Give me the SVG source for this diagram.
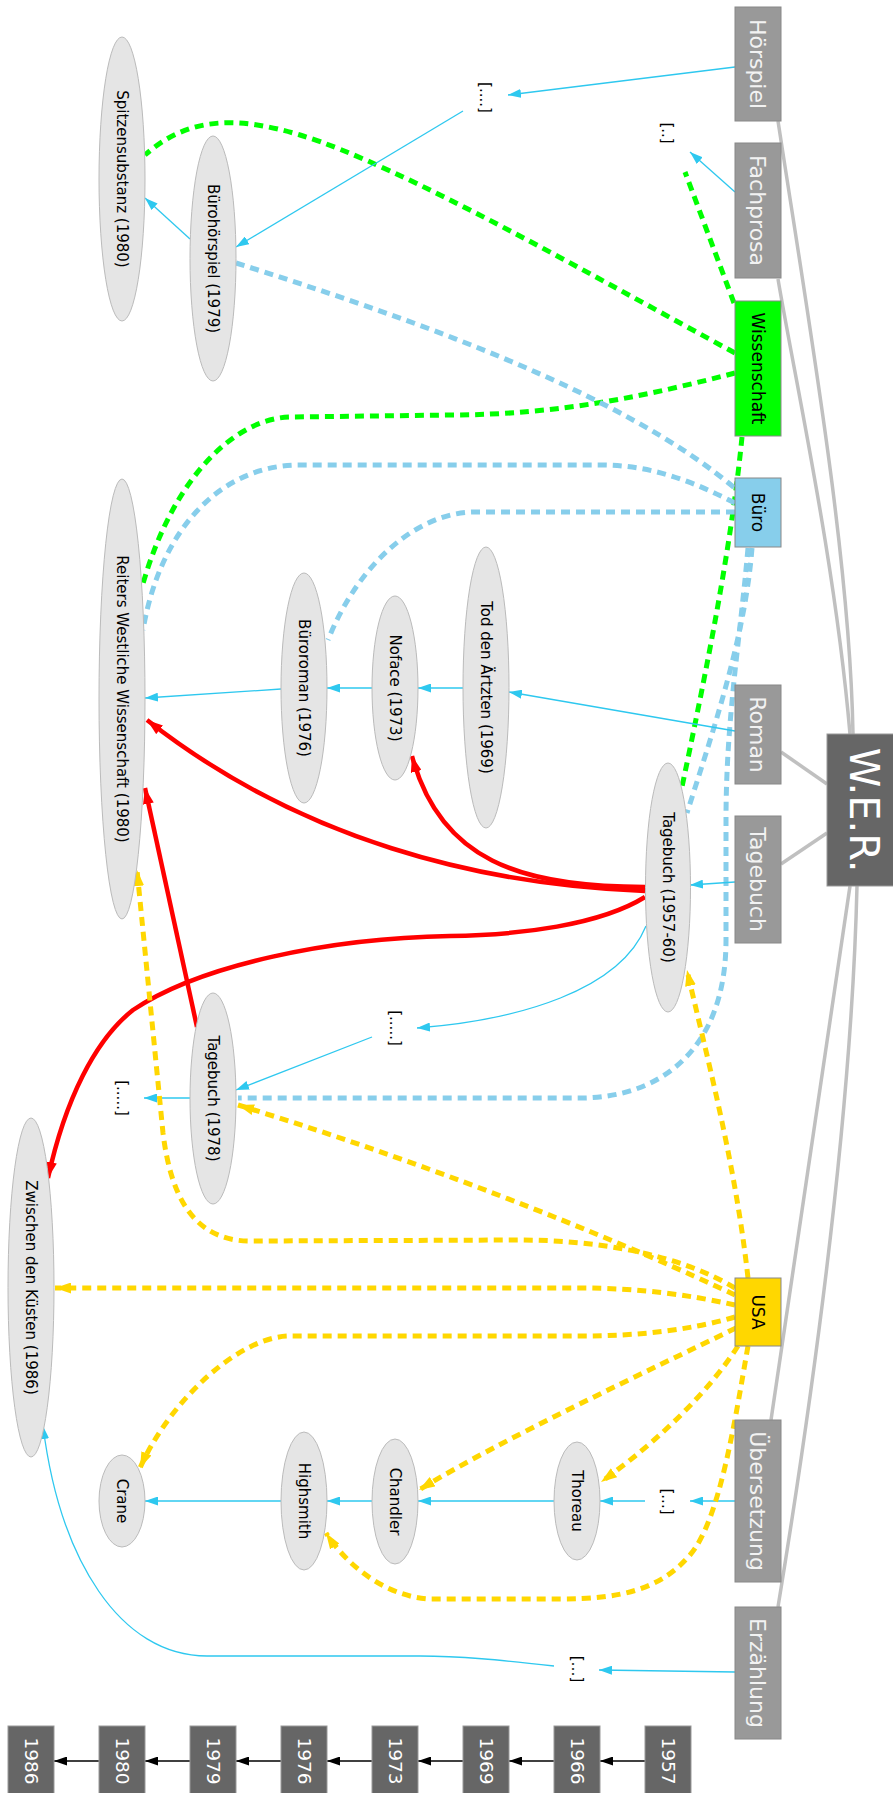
<svg xmlns="http://www.w3.org/2000/svg" width="893" height="1793" viewBox="0 0 893 1793">
<style>
text{font-family:"DejaVu Sans","Liberation Sans",sans-serif;text-anchor:middle}
.el{fill:#e5e5e5;stroke:#bbbbbb;stroke-width:1}
.el+text,.lbl{font-size:15px;fill:#000}
.gb{fill:#999999;stroke:#888888;stroke-width:1}
.gt{font-size:22px;fill:#f2f2f2}
.ct{font-size:17px;fill:#000}
.yb{fill:#666666;stroke:#999999;stroke-width:1}
.yt{font-size:18.5px;fill:#ffffff}
.w{fill:none;stroke:#c0c0c0;stroke-width:3.5}
.b{fill:none;stroke:#2ec8ef;stroke-width:1.3;marker-end:url(#ab)}
.r{fill:none;stroke:#ff0000;stroke-width:4.5;marker-end:url(#ar)}
.g{fill:none;stroke:#00ff00;stroke-width:5;stroke-dasharray:9,6}
.s{fill:none;stroke:#87ceeb;stroke-width:5;stroke-dasharray:9,6}
.y{fill:none;stroke:#ffd700;stroke-width:5;stroke-dasharray:9,6;marker-end:url(#ay)}
.k{fill:none;stroke:#000;stroke-width:1.3;marker-end:url(#ak)}
</style>
<defs>
<marker id="ab" viewBox="0 0 13 9" refX="13" refY="4.5" markerWidth="13" markerHeight="9" markerUnits="userSpaceOnUse" orient="auto"><path d="M0,0 L13,4.5 L0,9 z" fill="#2ec8ef"/></marker>
<marker id="ar" viewBox="0 0 16 11" refX="16" refY="5.5" markerWidth="16" markerHeight="11" markerUnits="userSpaceOnUse" orient="auto"><path d="M0,0 L16,5.5 L0,11 z" fill="#ff0000"/></marker>
<marker id="ay" viewBox="0 0 16 11" refX="16" refY="5.5" markerWidth="16" markerHeight="11" markerUnits="userSpaceOnUse" orient="auto"><path d="M0,0 L16,5.5 L0,11 z" fill="#ffd700"/></marker>
<marker id="ak" viewBox="0 0 13 9" refX="13" refY="4.5" markerWidth="13" markerHeight="9" markerUnits="userSpaceOnUse" orient="auto"><path d="M0,0 L13,4.5 L0,9 z" fill="#000"/></marker>
</defs>
<rect width="893" height="1793" fill="#ffffff"/>

<g id="connectors">
<!-- W.E.R. to genres -->
<path class="w" d="M778,121 C810,330 850,560 853,734"/>
<path class="w" d="M778,279 C795,380 835,560 850,734"/>
<path class="w" d="M781,752 L827,784"/>
<path class="w" d="M781,864 L827,833"/>
<path class="w" d="M850,886 L771,1420"/>
<path class="w" d="M857,886 C852,1100 820,1350 778,1607"/>
<!-- green dashed -->
<path class="g" d="M735,353 C600,280 400,165 300,135 C240,117 190,115 145,155"/>
<path class="g" d="M734,303 L685,172"/>
<path class="g" d="M735,373 C650,395 560,415 450,415 L290,417 C240,418 175,470 142,587"/>
<path class="g" d="M742,437 C730,560 700,700 682,787"/>
<!-- skyblue dashed -->
<path class="s" d="M236,263 C400,315 620,390 737,490"/>
<path class="s" d="M735,503 C690,480 650,465 600,465 L300,465 C220,465 160,530 143,630"/>
<path class="s" d="M735,512 L475,512 C420,512 360,560 328,640"/>
<path class="s" d="M752,548 C745,640 710,740 687,813"/>
<path class="s" d="M748,548 C740,640 726,720 726,820 L726,940 C726,1050 660,1098 580,1098 L238,1098"/>
<!-- blue arrows -->
<path class="b" d="M735,67 L508,95"/>
<path class="b" d="M463,111 L236,247"/>
<path class="b" d="M190,239 L145,198"/>
<path class="b" d="M735,192 L690,152"/>
<path class="b" d="M735,731 L509,692"/>
<path class="b" d="M463,688 L418,688"/>
<path class="b" d="M372,688 L327,688"/>
<path class="b" d="M281,689 L145,698"/>
<path class="b" d="M735,882 L690,885"/>
<path class="b" d="M646,926 C620,990 520,1020 417,1028"/>
<path class="b" d="M372,1037 L236,1090"/>
<path class="b" d="M190,1098 L144,1098"/>
<path class="b" d="M735,1501 L690,1501"/>
<path class="b" d="M645,1501 L600,1501"/>
<path class="b" d="M554,1501 L418,1501"/>
<path class="b" d="M372,1501 L327,1501"/>
<path class="b" d="M281,1501 L145,1501"/>
<path class="b" d="M735,1672 L599,1670"/>
<path class="b" d="M554,1666 C500,1660 460,1656 420,1656 L207,1656 C120,1656 60,1560 43,1426"/>
<!-- red -->
<path class="r" d="M645,887 C520,887 440,860 412,756"/>
<path class="r" d="M645,891 C480,885 300,840 147,720"/>
<path class="r" d="M645,897 C600,925 520,935 450,936 C330,938 200,965 133,1010 C95,1040 65,1100 48,1178"/>
<path class="r" d="M197,1027 L145,788"/>
<!-- yellow -->
<path class="y" d="M748,1278 C735,1160 705,1050 687,970"/>
<path class="y" d="M735,1295 C640,1250 450,1170 238,1105"/>
<path class="y" d="M735,1288 C680,1255 600,1240 520,1240 L250,1241 C190,1241 170,1190 163,1133 L137,870"/>
<path class="y" d="M735,1305 C690,1295 640,1288 580,1288 L55,1288"/>
<path class="y" d="M735,1317 C690,1330 640,1336 580,1336 L290,1336 C240,1336 170,1400 140,1468"/>
<path class="y" d="M736,1328 C650,1370 500,1440 419,1490"/>
<path class="y" d="M738,1346 C710,1390 660,1440 601,1482"/>
<path class="y" d="M748,1346 C735,1420 720,1520 690,1555 C660,1590 620,1599 560,1599 L430,1599 C390,1597 350,1570 326,1533"/>
<!-- timeline -->
<path class="k" d="M645,1761 L600,1761"/>
<path class="k" d="M554,1761 L509,1761"/>
<path class="k" d="M463,1761 L418,1761"/>
<path class="k" d="M372,1761 L327,1761"/>
<path class="k" d="M281,1761 L236,1761"/>
<path class="k" d="M190,1761 L145,1761"/>
<path class="k" d="M99,1761 L54,1761"/>
</g>

<g id="wer"><rect x="827" y="734" width="67" height="152" fill="#666666" stroke="#999999"/><text transform="translate(864,810) rotate(90)" dy="0.35em" font-size="40" fill="#ffffff">W.E.R.</text></g>
<g id="hoerspiel"><rect class="gb" x="735" y="7" width="46" height="114"/><text class="gt" transform="translate(758,64) rotate(90)" dy="0.35em">Hörspiel</text></g>
<g id="fachprosa"><rect class="gb" x="735" y="143" width="46" height="135"/><text class="gt" transform="translate(758,210.5) rotate(90)" dy="0.35em">Fachprosa</text></g>
<g id="wissenschaft"><rect x="735" y="301" width="46" height="135" fill="#00ff00" stroke="#888888"/><text class="ct" transform="translate(758,368.5) rotate(90)" dy="0.35em">Wissenschaft</text></g>
<g id="buero"><rect x="735" y="478" width="46" height="69" fill="#87ceeb" stroke="#888888"/><text class="ct" transform="translate(758,512.5) rotate(90)" dy="0.35em">Büro</text></g>
<g id="roman"><rect class="gb" x="735" y="685" width="46" height="99"/><text class="gt" transform="translate(758,734.5) rotate(90)" dy="0.35em">Roman</text></g>
<g id="tagebuch"><rect class="gb" x="735" y="816" width="46" height="127"/><text class="gt" transform="translate(758,879.5) rotate(90)" dy="0.35em">Tagebuch</text></g>
<g id="usa"><rect x="735" y="1278" width="46" height="68" fill="#ffd700" stroke="#888888"/><text class="ct" transform="translate(758,1312) rotate(90)" dy="0.35em">USA</text></g>
<g id="uebersetzung"><rect class="gb" x="735" y="1420" width="46" height="162"/><text class="gt" transform="translate(758,1501) rotate(90)" dy="0.35em">Übersetzung</text></g>
<g id="erzaehlung"><rect class="gb" x="735" y="1607" width="46" height="132"/><text class="gt" transform="translate(758,1673) rotate(90)" dy="0.35em">Erzählung</text></g>

<g id="spitzensubstanz"><ellipse class="el" cx="122" cy="179" rx="23" ry="142"/><text transform="translate(122,179) rotate(90)" dy="0.35em">Spitzensubstanz (1980)</text></g>
<g id="buerohoerspiel"><ellipse class="el" cx="213" cy="258.5" rx="23" ry="122.5"/><text transform="translate(213,258.5) rotate(90)" dy="0.35em">Bürohörspiel (1979)</text></g>
<g id="reiters"><ellipse class="el" cx="122" cy="699" rx="23" ry="220"/><text transform="translate(122,699) rotate(90)" dy="0.35em">Reiters Westliche Wissenschaft (1980)</text></g>
<g id="bueroroman"><ellipse class="el" cx="304" cy="688" rx="23" ry="115"/><text transform="translate(304,688) rotate(90)" dy="0.35em">Büroroman (1976)</text></g>
<g id="noface"><ellipse class="el" cx="395" cy="688" rx="23" ry="92"/><text transform="translate(395,688) rotate(90)" dy="0.35em">Noface (1973)</text></g>
<g id="tod"><ellipse class="el" cx="486" cy="687.5" rx="23" ry="140.5"/><text transform="translate(486,687.5) rotate(90)" dy="0.35em">Tod den Ärtzten (1969)</text></g>
<g id="tagebuch5760"><ellipse class="el" cx="668" cy="887.5" rx="22.5" ry="124.5"/><text transform="translate(668,887.5) rotate(90)" dy="0.35em">Tagebuch (1957-60)</text></g>
<g id="tagebuch1978"><ellipse class="el" cx="213" cy="1098.5" rx="23" ry="105.5"/><text transform="translate(213,1098.5) rotate(90)" dy="0.35em">Tagebuch (1978)</text></g>
<g id="zwischen"><ellipse class="el" cx="31" cy="1287.5" rx="23" ry="169.5"/><text transform="translate(31,1287.5) rotate(90)" dy="0.35em">Zwischen den Küsten (1986)</text></g>
<g id="crane"><ellipse class="el" cx="122" cy="1501" rx="23" ry="46"/><text transform="translate(122,1501) rotate(90)" dy="0.35em">Crane</text></g>
<g id="highsmith"><ellipse class="el" cx="304" cy="1501" rx="23" ry="69"/><text transform="translate(304,1501) rotate(90)" dy="0.35em">Highsmith</text></g>
<g id="chandler"><ellipse class="el" cx="395" cy="1501.5" rx="23" ry="62.5"/><text transform="translate(395,1501.5) rotate(90)" dy="0.35em">Chandler</text></g>
<g id="thoreau"><ellipse class="el" cx="577" cy="1501" rx="23" ry="59"/><text transform="translate(577,1501) rotate(90)" dy="0.35em">Thoreau</text></g>

<g id="p1"><text class="lbl" transform="translate(485,97.5) rotate(90)" dy="0.35em">[....]</text></g>
<g id="p2"><text class="lbl" transform="translate(667,133) rotate(90)" dy="0.35em">[..]</text></g>
<g id="p3"><text class="lbl" transform="translate(395,1028) rotate(90)" dy="0.35em">[.....]</text></g>
<g id="p4"><text class="lbl" transform="translate(122,1098) rotate(90)" dy="0.35em">[.....]</text></g>
<g id="p5"><text class="lbl" transform="translate(667,1501.5) rotate(90)" dy="0.35em">[...]</text></g>
<g id="p6"><text class="lbl" transform="translate(577,1669) rotate(90)" dy="0.35em">[…]</text></g>

<g id="y1957"><rect class="yb" x="645" y="1726" width="46" height="70"/><text class="yt" transform="translate(668,1761) rotate(90)" dy="0.35em">1957</text></g>
<g id="y1966"><rect class="yb" x="554" y="1726" width="46" height="70"/><text class="yt" transform="translate(577,1761) rotate(90)" dy="0.35em">1966</text></g>
<g id="y1969"><rect class="yb" x="463" y="1726" width="46" height="70"/><text class="yt" transform="translate(486,1761) rotate(90)" dy="0.35em">1969</text></g>
<g id="y1973"><rect class="yb" x="372" y="1726" width="46" height="70"/><text class="yt" transform="translate(395,1761) rotate(90)" dy="0.35em">1973</text></g>
<g id="y1976"><rect class="yb" x="281" y="1726" width="46" height="70"/><text class="yt" transform="translate(304,1761) rotate(90)" dy="0.35em">1976</text></g>
<g id="y1979"><rect class="yb" x="190" y="1726" width="46" height="70"/><text class="yt" transform="translate(213,1761) rotate(90)" dy="0.35em">1979</text></g>
<g id="y1980"><rect class="yb" x="99" y="1726" width="46" height="70"/><text class="yt" transform="translate(122,1761) rotate(90)" dy="0.35em">1980</text></g>
<g id="y1986"><rect class="yb" x="8" y="1726" width="46" height="70"/><text class="yt" transform="translate(31,1761) rotate(90)" dy="0.35em">1986</text></g>
</svg>
